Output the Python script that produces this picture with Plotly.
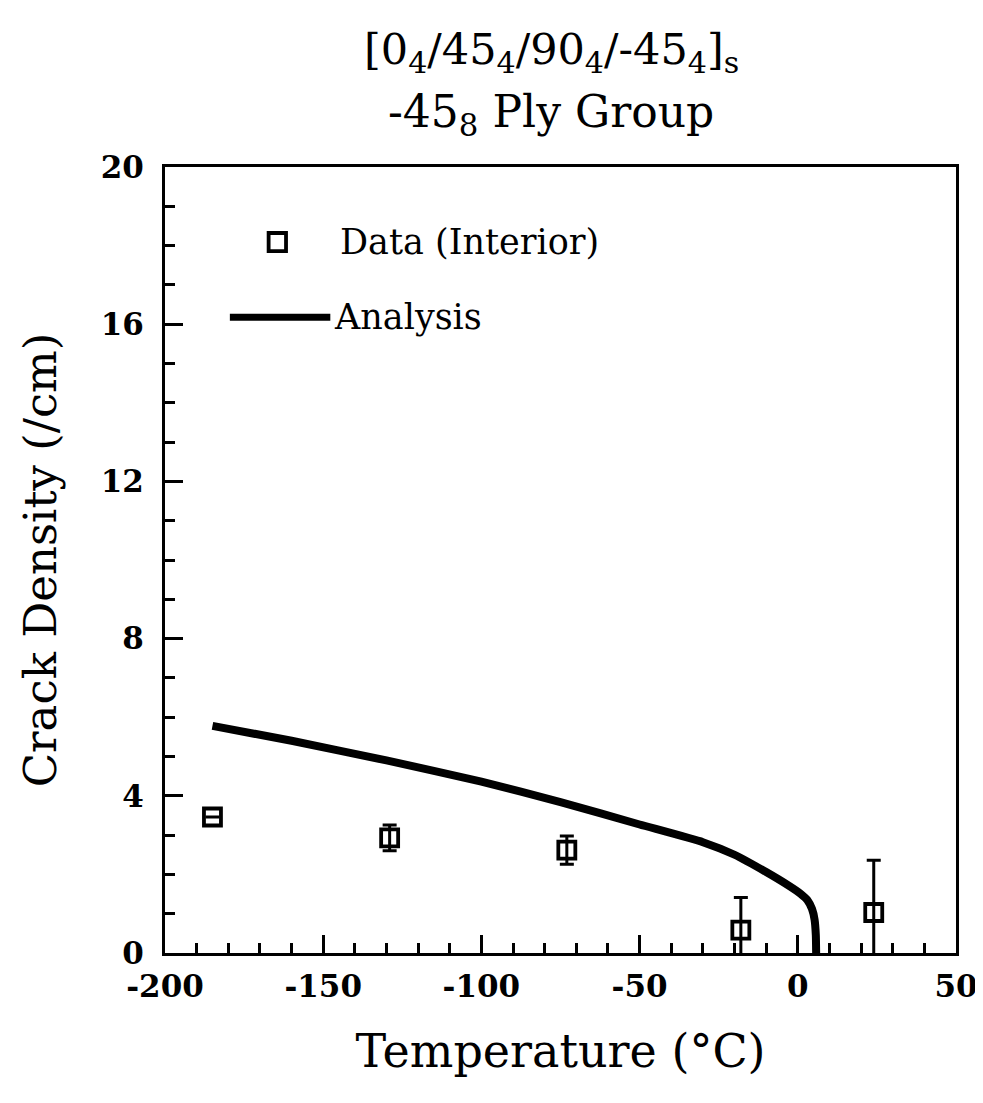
import plotly.graph_objects as go

# Data (interior) measurements
data_T = [-185, -129, -73, -18, 24]
data_cd = [3.46, 2.93, 2.62, 0.58, 1.03]
data_err = [0.0, 0.33, 0.36, 0.83, 1.33]

# Analysis curve
ana_T = [-185, -160, -130, -100, -75, -50, -30, -20, -10, -3, 1, 3, 4.5, 5.3, 5.7, 5.8]
ana_cd = [5.78, 5.40, 4.90, 4.36, 3.84, 3.27, 2.82, 2.50, 2.06, 1.72, 1.50, 1.35, 1.12, 0.85, 0.45, 0.0]

x_ticks = [-200, -150, -100, -50, 0, 50]
x_ticktext = ["-200", "-150", "-100", "-50", "0", "50"]
y_ticks = [0, 4, 8, 12, 16, 20]

FONT = "DejaVu Serif"

fig = go.Figure()
fig.add_trace(go.Scatter(
    x=ana_T, y=ana_cd, mode="lines",
    line=dict(color="black", width=8, shape="spline", smoothing=0.5),
    showlegend=False))
fig.add_trace(go.Scatter(
    x=data_T, y=data_cd, mode="markers",
    marker=dict(symbol="square-open", size=17, color="black", line=dict(width=3.8, color="black")),
    error_y=dict(type="data", array=data_err, visible=True, color="black", thickness=3, width=7),
    showlegend=False))

# manual legend
fig.add_shape(type="rect", xref="paper", yref="paper", x0=0.131, x1=0.153, y0=0.893, y1=0.916,
              line=dict(color="black", width=3.8), fillcolor="white")
fig.add_annotation(xref="paper", yref="paper", x=0.219, y=0.9046, text="Data (Interior)",
                   showarrow=False, xanchor="left", yanchor="middle",
                   font=dict(family=FONT, size=35, color="black"))
fig.add_shape(type="line", xref="paper", yref="paper", x0=0.082, x1=0.209, y0=0.809, y1=0.809,
              line=dict(color="black", width=7))
fig.add_annotation(xref="paper", yref="paper", x=0.211, y=0.809, text="Analysis",
                   showarrow=False, xanchor="left", yanchor="middle",
                   font=dict(family=FONT, size=35, color="black"))

# title (two lines)
fig.add_annotation(xref="paper", yref="paper", x=0.488, y=1.1845, xanchor="center", yanchor="top",
                   text="[0<sub>4</sub>/45<sub>4</sub>/90<sub>4</sub>/-45<sub>4</sub>]<sub>s</sub>",
                   showarrow=False, font=dict(family=FONT, size=43, color="black"))
fig.add_annotation(xref="paper", yref="paper", x=0.488, y=1.1056, xanchor="center", yanchor="top",
                   text="-45<sub>8</sub> Ply Group",
                   showarrow=False, font=dict(family=FONT, size=44, color="black"))

axis_common = dict(showline=True, linecolor="black", linewidth=3, mirror=True,
                   ticks="inside", tickcolor="black", tickwidth=3, showgrid=False, zeroline=False,
                   tickfont=dict(family=FONT, size=31, color="black", weight="bold"))

fig.update_xaxes(range=[-200, 50], tickvals=x_ticks, ticktext=x_ticktext, ticklen=18,
                 ticklabelstandoff=4,
                 minor=dict(dtick=10, ticklen=10, ticks="inside", tickcolor="black", tickwidth=3),
                 title=dict(text="Temperature (°C)", font=dict(family=FONT, size=46, color="black"), standoff=32),
                 **axis_common)
fig.update_yaxes(range=[0, 20], tickvals=y_ticks, ticklen=18,
                 ticklabelstandoff=12,
                 minor=dict(dtick=1, ticklen=10, ticks="inside", tickcolor="black", tickwidth=3),
                 title=dict(text="Crack Density (/cm)", font=dict(family=FONT, size=45, color="black"), standoff=30),
                 **axis_common)

fig.update_layout(
    width=983, height=1103,
    margin=dict(l=157, r=35, t=159, b=158),
    plot_bgcolor="white", paper_bgcolor="white",
)

fig.write_html("out.html")
